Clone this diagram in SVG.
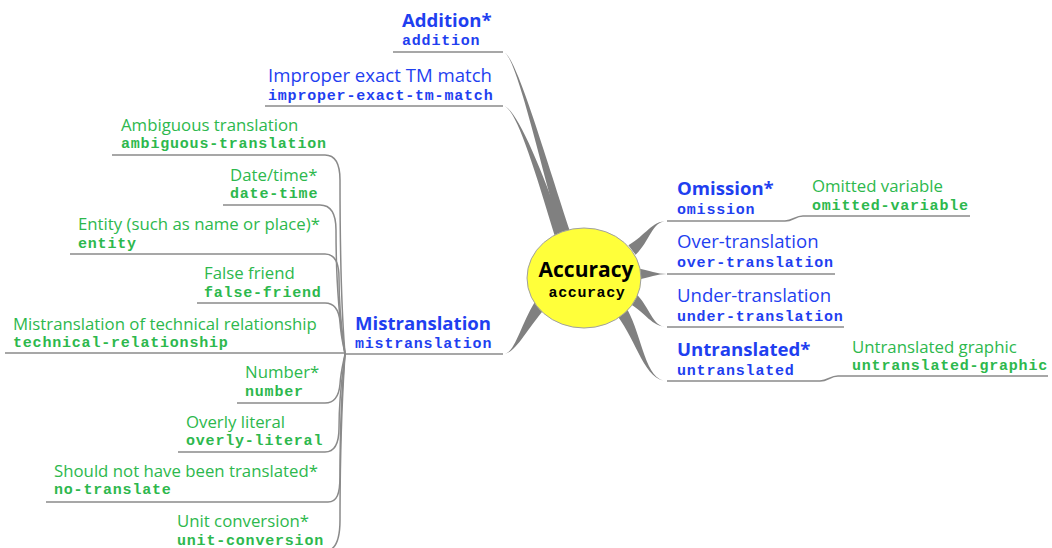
<svg xmlns="http://www.w3.org/2000/svg" width="1052" height="548" viewBox="0 0 1052 548">
<style>
.lb{font-family:"Open Sans","Noto Sans",sans-serif;font-size:18.6px;fill:#1f3ff0}
.lbb{font-family:"Open Sans","Noto Sans",sans-serif;font-size:18.6px;font-weight:bold;fill:#1f3ff0}
.lg{font-family:"Open Sans","Noto Sans",sans-serif;font-size:16.8px;fill:#2db84d}
.cb{font-family:"Liberation Mono","Courier New",monospace;font-size:15px;letter-spacing:0.8px;font-weight:bold;fill:#1f3ff0}
.cg{font-family:"Liberation Mono","Courier New",monospace;font-size:15px;letter-spacing:0.8px;font-weight:bold;fill:#2db84d}
.ln{fill:none;stroke:#8a8a8a;stroke-width:1.5}
.tp{fill:#808080;stroke:none}
</style>
<rect width="1052" height="548" fill="#fff"/>
<g id="connectors">
<path class="ln" d="M393,52 L503,52"/>
<path class="ln" d="M265,106 L503,106"/>
<path class="tp" d="M503,52 C515,52 542.9,149.1 570.8,233.5 L561.2,236.5 C537.1,150.9 515,52 503,52 Z"/>
<path class="tp" d="M503,106 C515,106 537.85,159.07 564.75,234.45 L555.25,237.55 C532.15,160.93 515,106 503,106 Z"/>
<path class="tp" d="M503,354 C515,354 524.9,332.1 544.9,308.5 L535.1,301.5 C519.1,327.9 515,354 503,354 Z"/>
<path class="tp" d="M667,221 C652,221 650.2,240.9 635.6,254.8 L628.4,245.2 C645.8,235.1 652,221 667,221 Z"/>
<path class="tp" d="M667,274 C657,274 650,277.6 636,280 L636,268 C650,270.4 657,274 667,274 Z"/>
<path class="tp" d="M667,327 C652,327 645.8,312.9 628.4,302.8 L635.6,293.2 C650.2,307.1 652,327 667,327 Z"/>
<path class="tp" d="M667,381 C645,381 637,341.9 617,315.2 L627,308.8 C643,338.1 645,381 667,381 Z"/>
<path class="ln" d="M667,221 L785,221 C793,221 795,216 803,216 L970,216"/>
<path class="ln" d="M667,274 L835,274"/>
<path class="ln" d="M667,327 L844,327"/>
<path class="ln" d="M667,381 L820,381 C828,381 830,376 838,376 L1048,376"/>
<path class="ln" d="M345,354 L503,354"/>
<path class="ln" d="M112,155 L325,155 C335,155 340,163 340,180 C340,300 344,340 345,354"/>
<path class="ln" d="M223,205 L320,205 C330,205 336,213 336,230 C336,310 343,340 345,354"/>
<path class="ln" d="M70,254 L325,254 C335,254 339,262 339,278 C339,320 344,342 345,354"/>
<path class="ln" d="M197,303 L325,303 C334,303 339,310 340,322 C341,338 344,348 345,354"/>
<path class="ln" d="M5,353 L345,353"/>
<path class="ln" d="M237,403 L325,403 C334,403 339,396 340,384 C341,370 344,360 345,354"/>
<path class="ln" d="M178,452 L325,452 C335,452 339,444 339,428 C339,390 344,366 345,354"/>
<path class="ln" d="M46,502 L328,502 C337,502 340,494 340,476 C340,400 344,368 345,354"/>
<path class="ln" d="M170,551 L325,551 C335,551 340,540 340,520 C340,420 344,372 345,354"/>
</g>
<g id="accuracy">
<ellipse cx="584" cy="278" rx="57" ry="50" fill="#ffff3a" stroke="#a0a0a0" stroke-width="1"/>
<text x="586" y="277" text-anchor="middle" font-family="'Open Sans','Noto Sans',sans-serif" font-size="21px" font-weight="bold" fill="#000">Accuracy</text>
<text x="587" y="297" text-anchor="middle" font-family="'Liberation Mono','Courier New',monospace" font-size="15px" letter-spacing="0.6px" font-weight="bold" fill="#000">accuracy</text>
</g>
<g id="addition"><text class="lbb" x="402" y="27">Addition*</text><text class="cb" x="402" y="45">addition</text></g>
<g id="improper-exact-tm-match"><text class="lb" x="268" y="82">Improper exact TM match</text><text class="cb" x="268" y="100">improper-exact-tm-match</text></g>
<g id="omission"><text class="lbb" x="677" y="195">Omission*</text><text class="cb" x="677" y="214">omission</text></g>
<g id="omitted-variable"><text class="lg" x="812" y="192">Omitted variable</text><text class="cg" x="812" y="210">omitted-variable</text></g>
<g id="over-translation"><text class="lb" x="677" y="248">Over-translation</text><text class="cb" x="677" y="267">over-translation</text></g>
<g id="under-translation"><text class="lb" x="677" y="302">Under-translation</text><text class="cb" x="677" y="321">under-translation</text></g>
<g id="untranslated"><text class="lbb" x="677" y="356">Untranslated*</text><text class="cb" x="677" y="375">untranslated</text></g>
<g id="untranslated-graphic"><text class="lg" x="852" y="353">Untranslated graphic</text><text class="cg" x="852" y="370">untranslated-graphic</text></g>
<g id="mistranslation"><text class="lbb" x="355" y="330">Mistranslation</text><text class="cb" x="355" y="348">mistranslation</text></g>
<g id="ambiguous-translation"><text class="lg" x="121" y="131">Ambiguous translation</text><text class="cg" x="121" y="148">ambiguous-translation</text></g>
<g id="date-time"><text class="lg" x="230" y="181">Date/time*</text><text class="cg" x="230" y="198">date-time</text></g>
<g id="entity"><text class="lg" x="78" y="230">Entity (such as name or place)*</text><text class="cg" x="78" y="248">entity</text></g>
<g id="false-friend"><text class="lg" x="204" y="279">False friend</text><text class="cg" x="204" y="297">false-friend</text></g>
<g id="technical-relationship"><text class="lg" x="13" y="330">Mistranslation of technical relationship</text><text class="cg" x="13" y="347">technical-relationship</text></g>
<g id="number"><text class="lg" x="245" y="378">Number*</text><text class="cg" x="245" y="396">number</text></g>
<g id="overly-literal"><text class="lg" x="186" y="428">Overly literal</text><text class="cg" x="186" y="445">overly-literal</text></g>
<g id="no-translate"><text class="lg" x="54" y="477">Should not have been translated*</text><text class="cg" x="54" y="494">no-translate</text></g>
<g id="unit-conversion"><text class="lg" x="177" y="527">Unit conversion*</text><text class="cg" x="177" y="545">unit-conversion</text></g>
</svg>
